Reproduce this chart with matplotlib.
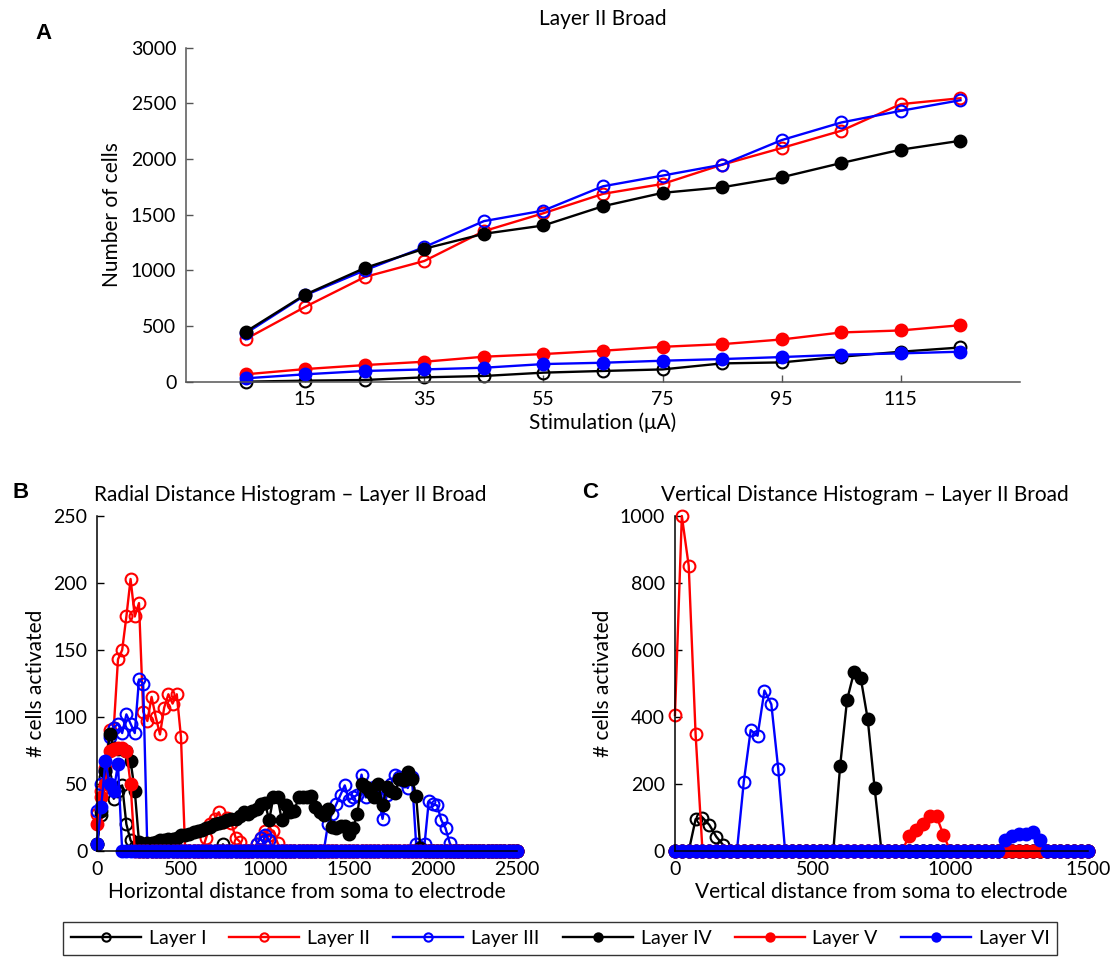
import matplotlib
matplotlib.use('Agg')
import matplotlib.pyplot as plt

plt.rcParams['font.family'] = ['Lato', 'DejaVu Sans']

layers = ['Layer I', 'Layer II', 'Layer III', 'Layer IV', 'Layer V', 'Layer VI']
colors = ['black', 'red', 'blue', 'black', 'red', 'blue']
filled = [False, False, False, True, True, True]

# panel A: number of cells vs stimulation
stim = [5, 15, 25, 35, 45, 55, 65, 75, 85, 95, 105, 115, 125]
a_l1 = [0, 9, 15, 39, 51, 81, 96, 110, 164, 173, 224, 269, 307]
a_l2 = [382, 672, 940, 1084, 1352, 1513, 1687, 1776, 1949, 2099, 2254, 2493, 2546]
a_l3 = [433, 776, 1000, 1209, 1442, 1537, 1755, 1851, 1949, 2170, 2328, 2433, 2528]
a_l4 = [448, 782, 1021, 1194, 1328, 1403, 1576, 1696, 1746, 1836, 1964, 2084, 2164]
a_l5 = [66, 113, 149, 179, 224, 248, 278, 313, 337, 379, 442, 460, 507]
a_l6 = [30, 66, 96, 110, 125, 158, 170, 188, 203, 221, 242, 254, 269]

# panel B: radial distance histogram, bins 0..2500 step 25
b_x = list(range(0, 2501, 25))
b_l1 = [5, 27, 55, 49, 39, 45, 49, 20, 8, 3,
        0, 0, 0, 0, 0, 0, 0, 0, 0, 0, 0, 0, 0, 0, 0, 0, 0, 0, 0, 0,
        5, 0, 0, 0, 0, 0, 0, 0, 0, 0, 0, 0, 0, 0, 0, 0, 0, 0, 0, 0,
        0, 0, 0, 0, 0, 0, 0, 0, 0, 0, 0, 0, 0, 0, 0, 0, 0, 0, 0, 0,
        0, 0, 0, 0, 0, 0, 0, 0, 0, 0, 0, 0, 0, 0, 0, 0, 0, 0, 0, 0,
        0, 0, 0, 0, 0, 0, 0, 0, 0, 0, 0]
b_l2 = [28, 45, 62, 90, 92, 143, 150, 175, 203, 175,
        185, 104, 97, 115, 100, 87, 107, 117, 110, 117,
        85, 0, 0, 0, 0, 0, 10, 20, 24, 29,
        22, 25, 21, 10, 7, 0, 0, 0, 5, 10,
        15, 12, 15, 6, 0, 0, 0, 0, 0, 0,
        0, 0, 0, 0, 0, 0, 0, 0, 0, 0, 0, 0, 0, 0, 0, 0, 0, 0, 0, 0,
        0, 0, 0, 0, 0, 0, 0, 0, 0, 0, 0, 0, 0, 0, 0, 0, 0, 0, 0, 0,
        0, 0, 0, 0, 0, 0, 0, 0, 0, 0, 0]
b_l3 = [30, 50, 60, 85, 92, 95, 88, 102, 95, 88,
        128, 125, 0, 0, 0, 0, 0, 0, 0, 0,
        0, 0, 0, 0, 0, 0, 0, 0, 0, 0,
        0, 0, 0, 0, 0, 0, 0, 0, 5, 10,
        12, 8, 0, 0, 0, 0, 0, 0, 0, 0,
        0, 0, 0, 0, 0, 20, 28, 35, 42, 49,
        38, 40, 42, 57, 40, 46, 48, 40, 24, 42,
        50, 57, 55, 52, 47, 55, 5, 3, 5, 37,
        35, 34, 23, 17, 6, 0, 0, 0, 0, 0,
        0, 0, 0, 0, 0, 0, 0, 0, 0, 0, 0]
b_l4 = [5, 30, 60, 87, 77, 76, 76, 75, 67, 45,
        7, 5, 6, 6, 7, 8, 8, 9, 9, 10,
        12, 12, 13, 14, 15, 16, 17, 18, 20, 21,
        22, 23, 24, 24, 26, 29, 28, 30, 31, 35,
        36, 23, 40, 40, 23, 34, 29, 30, 40, 40,
        40, 41, 33, 29, 27, 31, 18, 17, 19, 19,
        13, 17, 28, 50, 48, 44, 40, 50, 34, 48,
        45, 43, 54, 53, 59, 54, 41, 2, 0, 0,
        0, 0, 0, 0, 0, 0, 0, 0, 0, 0,
        0, 0, 0, 0, 0, 0, 0, 0, 0, 0, 0]
b_l5 = [20, 40, 50, 75, 76, 77, 77, 75, 50, 0,
        0, 0, 0, 0, 0, 0, 0, 0, 0, 0, 0, 0, 0, 0, 0, 0, 0, 0, 0, 0,
        0, 0, 0, 0, 0, 0, 0, 0, 0, 0, 0, 0, 0, 0, 0, 0, 0, 0, 0, 0,
        0, 0, 0, 0, 0, 0, 0, 0, 0, 0, 0, 0, 0, 0, 0, 0, 0, 0, 0, 0,
        0, 0, 0, 0, 0, 0, 0, 0, 0, 0, 0, 0, 0, 0, 0, 0, 0, 0, 0, 0,
        0, 0, 0, 0, 0, 0, 0, 0, 0, 0, 0]
b_l6 = [5, 33, 67, 50, 45, 65, 0, 0, 0, 0,
        0, 0, 0, 0, 0, 0, 0, 0, 0, 0, 0, 0, 0, 0, 0, 0, 0, 0, 0, 0,
        0, 0, 0, 0, 0, 0, 0, 0, 0, 0, 0, 0, 0, 0, 0, 0, 0, 0, 0, 0,
        0, 0, 0, 0, 0, 0, 0, 0, 0, 0, 0, 0, 0, 0, 0, 0, 0, 0, 0, 0,
        0, 0, 0, 0, 0, 0, 0, 0, 0, 0, 0, 0, 0, 0, 0, 0, 0, 0, 0, 0,
        0, 0, 0, 0, 0, 0, 0, 0, 0, 0, 0]

# panel C: vertical distance histogram, bins 0..1500 step 25
c_x = list(range(0, 1501, 25))
c_l1 = [0, 0, 0, 95, 100, 78, 43, 18, 0, 0,
        0, 0, 0, 0, 0, 0, 0, 0, 0, 0, 0, 0, 0, 0, 0, 0, 0, 0, 0, 0,
        0, 0, 0, 0, 0, 0, 0, 0, 0, 0, 0, 0, 0, 0, 0, 0, 0, 0, 0, 0,
        0, 0, 0, 0, 0, 0, 0, 0, 0, 0, 0]
c_l2 = [406, 1000, 851, 348, 0, 0, 0, 0, 0, 0,
        0, 0, 0, 0, 0, 0, 0, 0, 0, 0, 0, 0, 0, 0, 0, 0, 0, 0, 0, 0,
        0, 0, 0, 0, 0, 0, 0, 0, 0, 0, 0, 0, 0, 0, 0, 0, 0, 0, 0, 0,
        0, 0, 0, 0, 0, 0, 0, 0, 0, 0, 0]
c_l3 = [0, 0, 0, 0, 0, 0, 0, 0, 0, 0,
        207, 361, 344, 479, 438, 246, 0, 0, 0, 0,
        0, 0, 0, 0, 0, 0, 0, 0, 0, 0,
        0, 0, 0, 0, 0, 0, 0, 0, 0, 0, 0, 0, 0, 0, 0, 0, 0, 0, 0, 0,
        0, 0, 0, 0, 0, 0, 0, 0, 0, 0, 0]
c_l4 = [0, 0, 0, 0, 0, 0, 0, 0, 0, 0,
        0, 0, 0, 0, 0, 0, 0, 0, 0, 0,
        0, 0, 0, 0, 255, 451, 533, 515, 394, 189,
        0, 0, 0, 0, 0, 0, 0, 0, 0, 0, 0, 0, 0, 0, 0, 0, 0, 0, 0, 0,
        0, 0, 0, 0, 0, 0, 0, 0, 0, 0, 0]
c_l5 = [0, 0, 0, 0, 0, 0, 0, 0, 0, 0,
        0, 0, 0, 0, 0, 0, 0, 0, 0, 0,
        0, 0, 0, 0, 0, 0, 0, 0, 0, 0,
        0, 0, 0, 0, 45, 63, 80, 104, 104, 48,
        0, 0, 0, 0, 0, 0, 0, 0, 0, 0,
        0, 0, 0, 0, 0, 0, 0, 0, 0, 0, 0]
c_l6 = [0, 0, 0, 0, 0, 0, 0, 0, 0, 0,
        0, 0, 0, 0, 0, 0, 0, 0, 0, 0,
        0, 0, 0, 0, 0, 0, 0, 0, 0, 0,
        0, 0, 0, 0, 0, 0, 0, 0, 0, 0,
        0, 0, 0, 0, 0, 0, 0, 0, 33, 45,
        50, 52, 57, 33, 0, 0, 0, 0, 0, 0, 0]

fig = plt.figure(figsize=(11.16, 9.65), dpi=100)


def draw(ax, x, series, ms=8.5):
    for y, lab, c, f in zip(series, layers, colors, filled):
        ax.plot(x, y, '-o', color=c, lw=1.7, ms=ms, mew=1.5,
                mfc=c if f else 'none', mec=c, label=lab, clip_on=False)


def style(ax, spine_col):
    for s in ['top', 'right']:
        ax.spines[s].set_visible(False)
    for s in ['left', 'bottom']:
        ax.spines[s].set_color(spine_col)
        ax.spines[s].set_linewidth(1.1)
    ax.tick_params(direction='in', length=5, width=1, color=spine_col,
                   labelsize=14, pad=7)


# A
axA = fig.add_axes([0.1667, 0.6045, 0.7473, 0.3461])
draw(axA, stim, [a_l1, a_l2, a_l3, a_l4, a_l5, a_l6])
axA.set_xlim(-5, 135)
axA.set_ylim(0, 3000)
axA.set_xticks([15, 35, 55, 75, 95, 115])
axA.set_yticks([0, 500, 1000, 1500, 2000, 2500, 3000])
style(axA, '#555555')
axA.set_title('Layer II Broad', fontsize=15, pad=16)
axA.set_xlabel('Stimulation (\u03bcA)', fontsize=15, labelpad=3)
axA.set_ylabel('Number of cells', fontsize=15, labelpad=6)
fig.text(0.032, 0.965, 'A', fontsize=16, fontweight='bold',
         family='Liberation Sans', va='center')

# B
axB = fig.add_axes([0.0869, 0.1181, 0.3763, 0.3472])
draw(axB, b_x, [b_l1, b_l2, b_l3, b_l4, b_l5, b_l6])
axB.set_xlim(0, 2500)
axB.set_ylim(0, 250)
axB.set_xticks([0, 500, 1000, 1500, 2000, 2500])
axB.set_yticks([0, 50, 100, 150, 200, 250])
style(axB, 'black')
axB.set_title('Radial Distance Histogram \u2013 Layer II Broad', fontsize=15, pad=11, x=0.46)
axB.set_xlabel('Horizontal distance from soma to electrode', fontsize=15, labelpad=3)
axB.set_ylabel('# cells activated', fontsize=15, labelpad=5)
fig.text(0.011, 0.49, 'B', fontsize=16, fontweight='bold',
         family='Liberation Sans', va='center')

# C
axC = fig.add_axes([0.6048, 0.1181, 0.3701, 0.3472])
draw(axC, c_x, [c_l1, c_l2, c_l3, c_l4, c_l5, c_l6])
axC.set_xlim(0, 1500)
axC.set_ylim(0, 1000)
axC.set_xticks([0, 500, 1000, 1500])
axC.set_yticks([0, 200, 400, 600, 800, 1000])
style(axC, 'black')
axC.set_title('Vertical Distance Histogram \u2013 Layer II Broad', fontsize=15, pad=11, x=0.46)
axC.set_xlabel('Vertical distance from soma to electrode', fontsize=15, labelpad=3)
axC.set_ylabel('# cells activated', fontsize=15, labelpad=5)
fig.text(0.522, 0.49, 'C', fontsize=16, fontweight='bold',
         family='Liberation Sans', va='center')

handles, labels = axA.get_legend_handles_labels()
leg = fig.legend(handles, labels, loc='upper center', bbox_to_anchor=(0.502, 0.0446),
                 ncol=6, fontsize=14, frameon=True, fancybox=False,
                 edgecolor='black', handlelength=3.6, columnspacing=1.2,
                 handletextpad=0.4, borderaxespad=0, markerscale=0.7)
leg.get_frame().set_linewidth(1.0)

fig.savefig('out.png', dpi=100)
